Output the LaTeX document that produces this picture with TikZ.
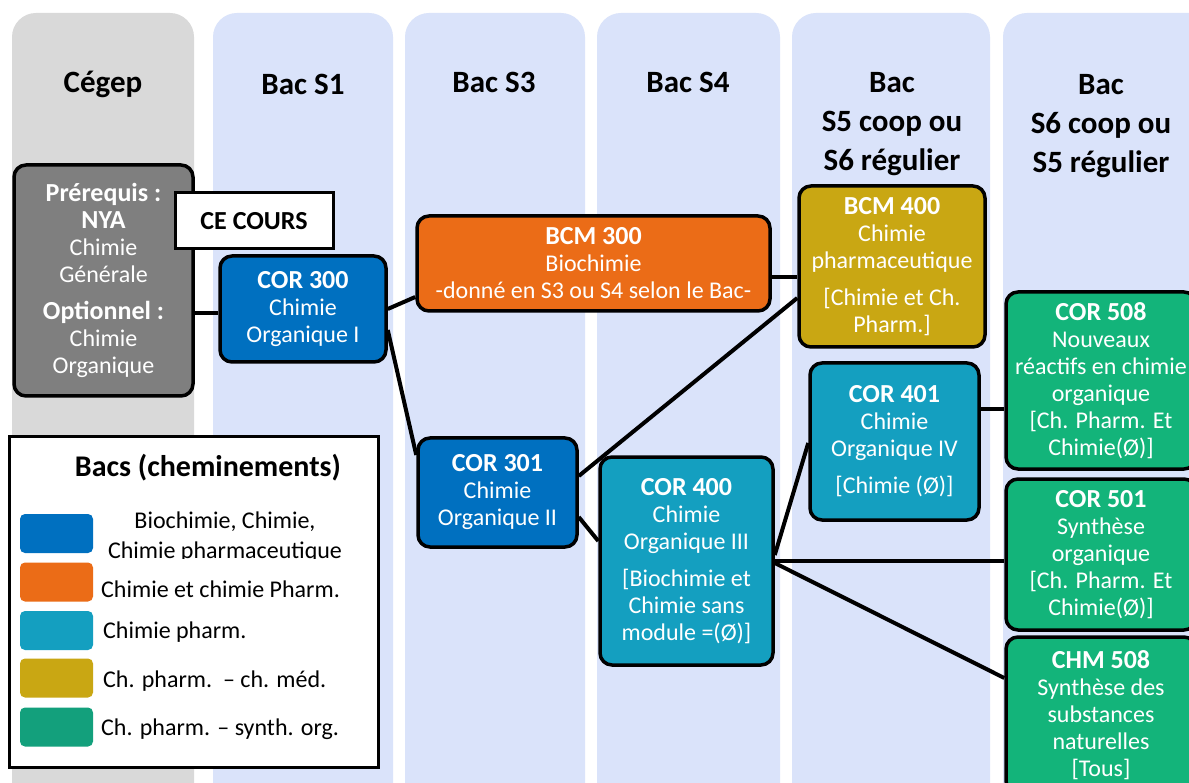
\documentclass[tikz,border=0pt]{standalone}
\usepackage{fontspec}
\setmainfont{Carlito}
\definecolor{colgray}{HTML}{D9D9D9}
\definecolor{colblue}{RGB}{218,227,250}
\definecolor{boxgray}{HTML}{7F7F7F}
\definecolor{cblue}{HTML}{0070C0}
\definecolor{corange}{RGB}{235,108,23}
\definecolor{cteal}{RGB}{20,159,192}
\definecolor{cgold}{RGB}{201,167,19}
\definecolor{cgreen}{RGB}{19,180,122}
\definecolor{lgreen}{RGB}{19,160,124}
\newcommand\code[1]{{\fontsize{26}{28}\selectfont\bfseries #1}}
\tikzset{
  col/.style={rounded corners=24pt},
  hdr/.style={font=\bfseries\fontsize{31}{39}\selectfont, align=center, inner sep=0pt},
  course/.style={draw=black, line width=3.5pt, rounded corners=12pt, text=white, align=center,
     font=\fontsize{24}{27}\selectfont, inner sep=0pt},
  conn/.style={line width=4pt, black},
  swatch/.style={rounded corners=5pt, minimum width=73pt, minimum height=39pt, inner sep=0pt},
  legtext/.style={font=\fontsize{24}{28}\selectfont, inner sep=0pt},
}
\begin{document}
\begin{tikzpicture}[x=1pt, y=-1pt]
\clip (0,0) rectangle (1189,783);
\fill[white] (0,0) rectangle (1189,783);
% columns
\fill[colgray, col] (12,13) rectangle (194,810);
\fill[colblue, col] (213,13) rectangle (393,810);
\fill[colblue, col] (405,13) rectangle (585,810);
\fill[colblue, col] (597,13) rectangle (780,810);
\fill[colblue, col] (792,13) rectangle (990,810);
\fill[colblue, col] (1003,13) rectangle (1230,810);
% headers
\node[hdr, anchor=base] (hcegep) at (103,93) {Cégep};
\node[hdr, anchor=base] (hs1) at (303,95) {Bac S1};
\node[hdr, anchor=base] (hs3) at (494,93) {Bac S3};
\node[hdr, anchor=base] (hs4) at (688,93) {Bac S4};
\node[hdr] (hs5) at (892,124) {Bac\\S5 coop ou\\S6 régulier};
\node[hdr] (hs6) at (1101,126) {Bac\\S6 coop ou\\S5 régulier};
% course boxes
\node[course, fill=boxgray, minimum width=179pt, minimum height=231pt] (pre) at (103.5,280.5)
  {\code{Prérequis :}\\\code{NYA}\\Chimie\\Générale\\[10pt]\code{Optionnel :}\\Chimie\\Organique};
\node[draw=black, line width=3pt, fill=white, minimum width=158pt, minimum height=56pt, inner sep=0pt,
  font=\fontsize{26}{28}\selectfont\bfseries] (cecours) at (254,221) {CE COURS};
\node[course, fill=cblue, minimum width=166pt, minimum height=106pt] (cor300) at (303,309)
  {\code{COR 300}\\Chimie\\Organique I};
\node[course, fill=corange, minimum width=353pt, minimum height=95pt] (bcm300) at (593.5,263.5)
  {\code{BCM 300}\\Biochimie\\-donné en S3 ou S4 selon le Bac-};
\node[course, fill=cblue, minimum width=159pt, minimum height=109pt] (cor301) at (497.5,492.5)
  {\code{COR 301}\\Chimie\\Organique II};
\node[course, fill=cteal, minimum width=173pt, minimum height=208pt] (cor400) at (686.5,561)
  {\code{COR 400}\\Chimie\\Organique III\\[10pt]{[}Biochimie et\\Chimie sans\\module =(Ø){]}};
\node[course, fill=cgold, minimum width=186pt, minimum height=161pt] (bcm400) at (892,266.5)
  {\code{BCM 400}\\Chimie\\pharmaceutique\\[10pt]{[}Chimie et Ch.\\Pharm.{]}};
\node[course, fill=cteal, minimum width=169pt, minimum height=157pt] (cor401) at (894.5,441.5)
  {\code{COR 401}\\Chimie\\Organique IV\\[10pt]{[}Chimie (Ø){]}};
\node[course, fill=cgreen, minimum width=190pt, minimum height=177pt] (cor508) at (1101,380.5)
  {\code{COR 508}\\Nouveaux\\réactifs en chimie\\organique\\{[}Ch. Pharm. Et\\Chimie(Ø){]}};
\node[course, fill=cgreen, minimum width=190pt, minimum height=151pt] (cor501) at (1101,554.5)
  {\code{COR 501}\\Synthèse\\organique\\{[}Ch. Pharm. Et\\Chimie(Ø){]}};
\node[course, fill=cgreen, minimum width=190pt, minimum height=156pt] (chm508) at (1101,715)
  {\code{CHM 508}\\Synthèse des\\substances\\naturelles\\{[}Tous{]}};
% connectors
\draw[conn] ([yshift=-32.5pt]pre.east) -- ([yshift=-4pt]cor300.west);
\draw[conn] (cor300.east) -- ([yshift=-33.5pt]bcm300.west);
\draw[conn] ([yshift=-21pt]cor300.east) -- ([yshift=37.5pt]cor301.west);
\draw[conn] ([yshift=-13.5pt]bcm300.east) -- ([yshift=-10.5pt]bcm400.west);
\draw[conn] ([yshift=16.5pt]cor301.east) -- ([yshift=-31.5pt]bcm400.west);
\draw[conn] ([yshift=-24.5pt]cor301.east) -- ([yshift=20pt]cor400.west);
\draw[conn] ([yshift=6pt]cor400.east) -- ([yshift=-1.5pt]cor401.west);
\draw[conn] (cor400.east) -- ([yshift=-6.5pt]cor501.west);
\draw[conn] ([yshift=-2pt]cor400.east) -- ([yshift=37pt]chm508.west);
\draw[conn] ([yshift=32.5pt]cor401.east) -- ([yshift=-28.5pt]cor508.west);
% legend
\node[draw=black, line width=3pt, fill=white, minimum width=369pt, minimum height=330pt, inner sep=0pt] (legend) at (193.5,602) {};
\node[font=\bfseries\fontsize{30}{34}\selectfont, inner sep=0pt] (legtitle) at (208,468) {Bacs (cheminements)};
\node[swatch, fill=cblue] (sw1) at (56.5,533.5) {};
\node[swatch, fill=corange] (sw2) at (56.5,582) {};
\node[swatch, fill=cteal] (sw3) at (56.5,630.5) {};
\node[swatch, fill=cgold] (sw4) at (56.5,678) {};
\node[swatch, fill=lgreen] (sw5) at (56.5,727) {};
\node[legtext] (lt1a) at (225,522) {Biochimie, Chimie,};
\begin{scope}
\clip (100,530) rectangle (370,558);
\node[legtext] (lt1b) at (225,552) {Chimie pharmaceutique};
\end{scope}
\node[legtext, anchor=west] (lt2) at (101,589) {Chimie et chimie Pharm.};
\node[legtext, anchor=west] (lt3) at (103,632) {Chimie pharm.};
\node[legtext, anchor=west] (lt4) at (103,681) {Ch. pharm.\ \ – ch. méd.};
\node[legtext, anchor=west] (lt5) at (101,729) {Ch. pharm. – synth. org.};
\end{tikzpicture}
\end{document}
